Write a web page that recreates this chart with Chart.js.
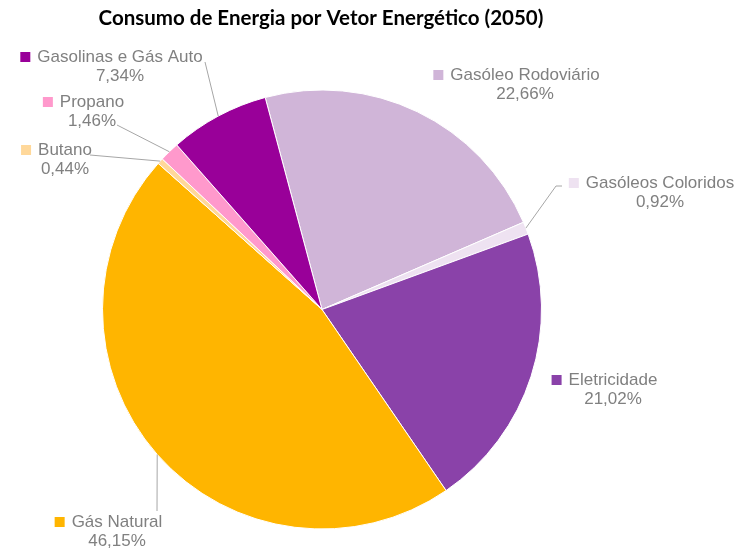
<!DOCTYPE html>
<html lang="pt">
<head>
  <meta charset="UTF-8">
  <title>Consumo de Energia por Vetor Energético (2050)</title>
  <script src="https://cdn.jsdelivr.net/npm/chart.js"></script>
  <style>
    body { margin: 0; padding: 0; background: #fff; }
    #wrap { width: 755px; height: 556px; }
  </style>
</head>
<body>
  <div id="wrap"><canvas id="energyChart" width="755" height="556"></canvas></div>

  <script>
    // Data
    const labels = ['Gasóleo Rodoviário', 'Gasóleos Coloridos', 'Eletricidade', 'Gás Natural', 'Butano', 'Propano', 'Gasolinas e Gás Auto'];
    const shares = [22.66, 0.92, 21.02, 46.15, 0.44, 1.46, 7.34];
    const colors = ['#D0B5D8', '#EEE2F1', '#8A42A9', '#FFB500', '#FFD89A', '#FF99CC', '#990099'];

    // Label layout: text centre x, first line y, optional leader line points (label end)
    const labelLayout = [
      { cx: 525, y: 75 },
      { cx: 660, y: 183, leader: [[562, 186], [556, 186]] },
      { cx: 613, y: 380 },
      { cx: 117, y: 522, leader: [[157, 511]] },
      { cx: 65, y: 150, leader: [[90, 155]] },
      { cx: 92, y: 102, leader: [[117, 125]] },
      { cx: 120, y: 57, leader: [[205, 62]] }
    ];

    const fmt = v => v.toFixed(2).replace('.', ',') + '%';

    const labelPlugin = {
      id: 'pieLabels',
      afterDraw(chart) {
        const ctx = chart.ctx;
        const meta = chart.getDatasetMeta(0);

        // title
        ctx.save();
        ctx.fillStyle = '#000';
        ctx.font = 'bold 20.5px Lato';
        ctx.textAlign = 'center';
        ctx.textBaseline = 'middle';
        ctx.fillText('Consumo de Energia por Vetor Energético (2050)', 321, 18);
        ctx.restore();

        meta.data.forEach((arc, i) => {
          const lay = labelLayout[i];
          ctx.save();
          // leader line
          if (lay.leader) {
            const mid = (arc.startAngle + arc.endAngle) / 2;
            const ex = arc.x + Math.cos(mid) * arc.outerRadius;
            const ey = arc.y + Math.sin(mid) * arc.outerRadius;
            ctx.strokeStyle = '#A6A6A6';
            ctx.lineWidth = 1;
            ctx.beginPath();
            ctx.moveTo(lay.leader[0][0], lay.leader[0][1]);
            for (let k = 1; k < lay.leader.length; k++) ctx.lineTo(lay.leader[k][0], lay.leader[k][1]);
            ctx.lineTo(ex, ey);
            ctx.stroke();
          }
          // label text
          ctx.font = '17px "Liberation Sans", Arial, sans-serif';
          ctx.fillStyle = '#808080';
          ctx.textAlign = 'center';
          ctx.textBaseline = 'middle';
          ctx.fillText(labels[i], lay.cx, lay.y);
          ctx.fillText(fmt(shares[i]), lay.cx, lay.y + 19.5);
          // legend key square
          const w = ctx.measureText(labels[i]).width;
          ctx.fillStyle = colors[i];
          ctx.fillRect(lay.cx - w / 2 - 17, lay.y - 5, 10, 10);
          ctx.restore();
        });
      }
    };

    new Chart(document.getElementById('energyChart').getContext('2d'), {
      type: 'pie',
      data: {
        labels: labels,
        datasets: [{
          data: shares,
          backgroundColor: colors,
          borderColor: '#ffffff',
          borderWidth: 1
        }]
      },
      options: {
        responsive: false,
        animation: false,
        rotation: -15,
        layout: { padding: { left: 102, right: 213, top: 89, bottom: 26 } },
        plugins: {
          legend: { display: false },
          title: { display: false },
          tooltip: { enabled: false }
        }
      },
      plugins: [labelPlugin]
    });
  </script>
</body>
</html>
